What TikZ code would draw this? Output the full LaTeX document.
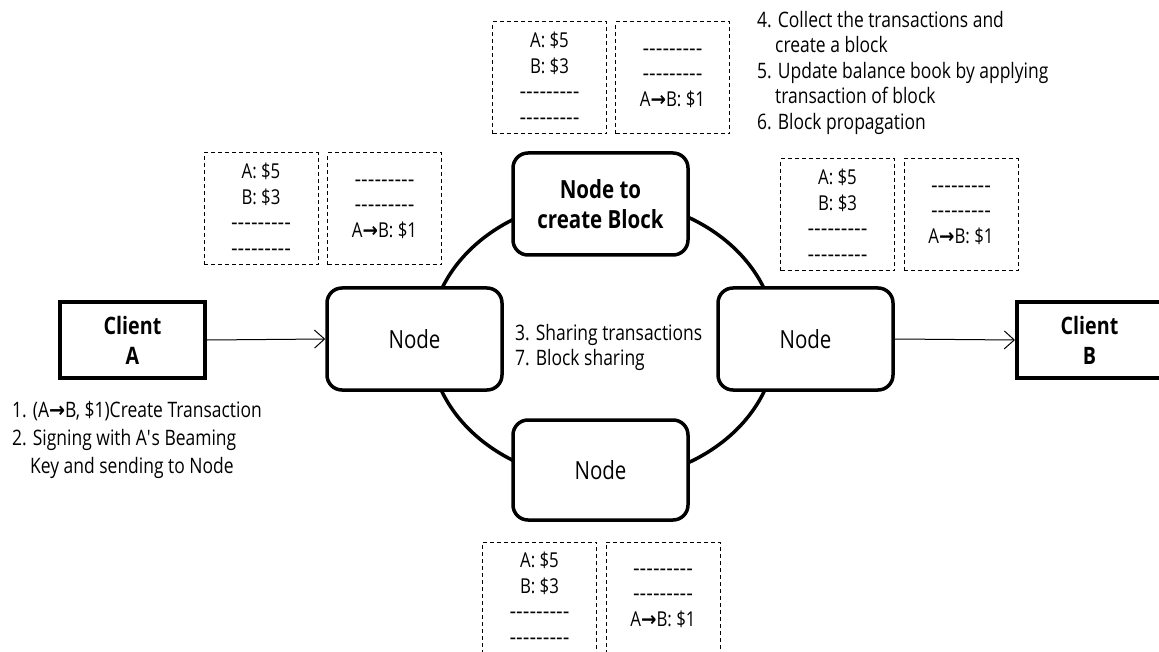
\documentclass[tikz,border=0pt]{standalone}
\usepackage{fontspec}
\setmainfont{Open Sans}[FakeStretch=0.82]
\newfontfamily\symf{DejaVu Sans}[FakeStretch=0.9]
\usetikzlibrary{arrows.meta}
\newcommand\dsh{{\symf -{}-{}-{}-{}-{}-{}-{}-{}-}}
\newcommand\rar{{\symf\bfseries →}}
\tikzset{
 client/.style={draw, line width=4pt, minimum width=145pt, minimum height=76pt, inner sep=0pt, align=center, font=\fontsize{24}{30}\selectfont\bfseries},
 netnode/.style={draw, line width=3.5pt, rounded corners=15pt, minimum width=175pt, minimum height=102pt, align=center, inner sep=0pt, fill=white, font=\fontsize{25}{30}\selectfont},
 ledger/.style={draw, line width=1pt, dash pattern=on 4pt off 3pt, minimum width=114pt, minimum height=112pt, inner sep=0pt, align=center, font=\fontsize{20.5}{25.5}\selectfont},
 lbl/.style={align=left, inner sep=0pt, anchor=north west, font=\fontsize{21.3}{25.5}\selectfont},
 arr/.style={line width=1pt, -{Straight Barb[length=10pt,width=18pt]}}
}
\begin{document}
\begin{tikzpicture}[x=1pt,y=-1pt]
\useasboundingbox (0,0) rectangle (1159,652);
\draw[line width=3.5pt] (603,340) ellipse [x radius=173, y radius=141];
\node[client] (ca) at (132.5,340) {Client\\A};
\node[client] (cb) at (1089.5,340) {Client\\B};
\node[netnode] (nl) at (414.5,339) {Node};
\node[netnode] (nr) at (805.5,339) {Node};
\node[netnode, font=\fontsize{25}{30}\selectfont\bfseries] (nt) at (600.5,204) {Node to\\create Block};
\node[netnode, minimum height=100pt] (nb) at (600.5,470) {Node};
\draw[arr] (ca.east) -- (nl.west);
\draw[arr] (nr.east) -- (cb.west);
% ledgers
\node[ledger] (tl1) at (549.5,78) {A: \$5\\B: \$3\\\dsh\\\dsh};
\node[ledger] (tl2) at (672.5,78) {\dsh\\\dsh\\A\rar B: \$1};
\node[ledger] (ll1) at (261,209) {A: \$5\\B: \$3\\\dsh\\\dsh};
\node[ledger] (ll2) at (384.5,209) {\dsh\\\dsh\\A\rar B: \$1};
\node[ledger] (rl1) at (837.5,215) {A: \$5\\B: \$3\\\dsh\\\dsh};
\node[ledger] (rl2) at (961,215) {\dsh\\\dsh\\A\rar B: \$1};
\node[ledger] (bl1) at (539.5,598) {A: \$5\\B: \$3\\\dsh\\\dsh};
\node[ledger] (bl2) at (663,598) {\dsh\\\dsh\\A\rar B: \$1};
% labels
\node[lbl] (steps47) at (757,11) {4. Collect the transactions and\\\hspace*{18pt}create a block\\5. Update balance book by applying\\\hspace*{18pt}transaction of block\\6. Block propagation};
\node[lbl] (steps37) at (515,324) {3. Sharing transactions\\7. Block sharing};
\node[lbl, font=\fontsize{21.3}{28}\selectfont] (steps12) at (12,401) {1. (A\rar B, \$1)Create Transaction\\2. Signing with A\textquotesingle s Beaming\\\hspace*{18pt}Key and sending to Node};
\end{tikzpicture}
\end{document}
